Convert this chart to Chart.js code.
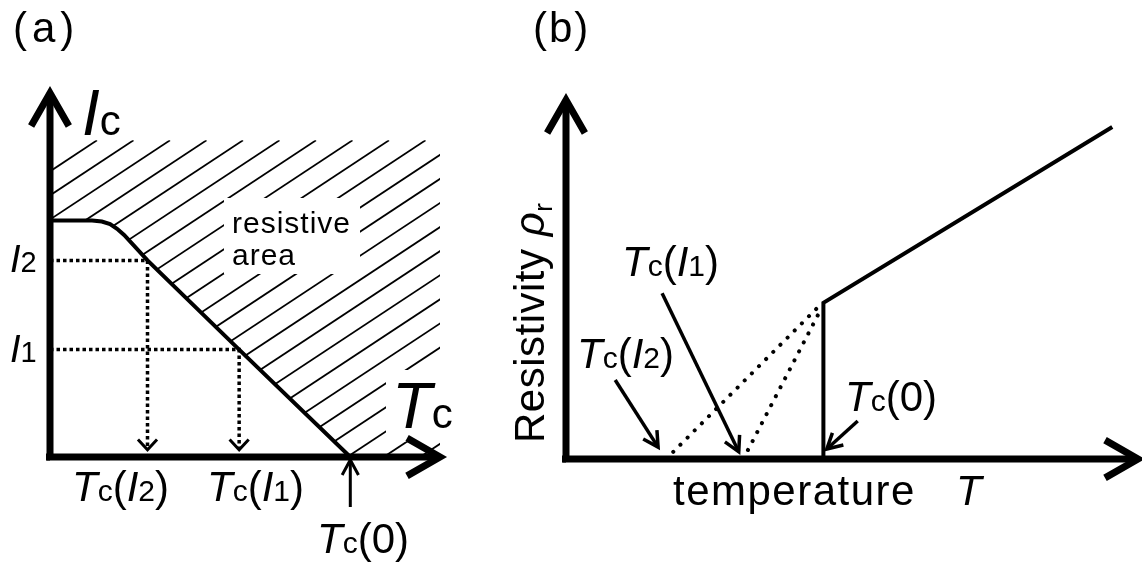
<!DOCTYPE html>
<html>
<head>
<meta charset="utf-8">
<script src="https://cdn.jsdelivr.net/npm/chart.js@4/dist/chart.umd.min.js"></script>
<style>
	body { margin: 0; background: #fff; }
	#wrap { position: relative; width: 1142px; height: 567px; overflow: hidden; }
	canvas { position: absolute; top: 0; }
	#chartA { left: 0; }
	#chartB { left: 490px; }
</style>
</head>
<body>
<div id="wrap">
	<canvas id="chartA" width="490" height="567"></canvas>
	<canvas id="chartB" width="652" height="567"></canvas>
</div>
<script>
// =================== DATA ===================
// (a) critical current boundary Ic(T), arbitrary units 0..10
const icTemp = [0, 1.08, 1.33, 1.54, 1.72, 1.9, 2.5, 4.85, 7.7];
const icCurrent = [6.5, 6.5, 6.47, 6.4, 6.27, 6.1, 5.4, 2.95, 0];
const levelNames = ["2", "1"];
const levelCurrent = [5.4, 2.95];
const levelTemp = [2.5, 4.85];
const tcZero = 7.7;
const hatchTop = 8.7;
const hatchRight = 10;

// (b) resistivity vs temperature
const resTemp = [0, 4.5, 4.5, 9.55];
const resRho = [0, 0, 4.35, 9.25];
const onsetTemp = [1.75, 3.1];
const onsetTopTemp = [4.45, 4.45];
const onsetTopRho = [4.3, 4.15];
// pointer arrows in (b): [fromT, fromRho, toT, toRho]
const pointerI2 = [0.86, 2.2, 1.61, 0.33];
const pointerI1 = [1.68, 4.62, 3.02, 0.2];
const pointerZero = [5.1, 1.06, 4.56, 0.28];

const FONT = '"Liberation Sans", Arial, sans-serif';

// =================== UTILITY ===================
function pts(xs, ys) {
	return xs.map((x, i) => ({ x, y: ys[i] }));
}

function rich(ctx, x, y, parts) {
	let cx = x;
	parts.forEach(([t, size, italic, dy]) => {
		ctx.font = `${italic ? "italic " : ""}${size}px ${FONT}`;
		ctx.fillText(t, cx, y + (dy || 0));
		cx += ctx.measureText(t).width;
	});
}

function tcLabel(ctx, x, y, arg) {
	const inner = arg === "0" ? [["0", 42]] : [["I", 42, true], [arg, 30]];
	rich(ctx, x, y, [["T", 42, true], ["c", 30], ["(", 42], ...inner, [")", 42]]);
}

function head(ctx, x1, y1, x2, y2, len, half) {
	const a = Math.atan2(y2 - y1, x2 - x1);
	ctx.beginPath();
	ctx.moveTo(x2 - len * Math.cos(a - half), y2 - len * Math.sin(a - half));
	ctx.lineTo(x2, y2);
	ctx.lineTo(x2 - len * Math.cos(a + half), y2 - len * Math.sin(a + half));
	ctx.stroke();
}

function arrow(ctx, x1, y1, x2, y2, len, half, width) {
	ctx.lineWidth = width;
	ctx.beginPath();
	ctx.moveTo(x1, y1);
	ctx.lineTo(x2, y2);
	ctx.stroke();
	head(ctx, x1, y1, x2, y2, len, half);
}

function drawAxes(chart, ext) {
	const { ctx, chartArea: ca } = chart;
	ctx.save();
	ctx.strokeStyle = "#000";
	ctx.lineWidth = 7;
	ctx.lineJoin = "miter";
	ctx.lineCap = "butt";
	ctx.beginPath();
	ctx.moveTo(ca.left, ca.top + 4);
	ctx.lineTo(ca.left, ca.bottom);
	ctx.lineTo(ca.right - 4, ca.bottom);
	ctx.stroke();
	ctx.beginPath();
	ctx.moveTo(ca.left - ext, ca.bottom);
	ctx.lineTo(ca.left, ca.bottom);
	ctx.stroke();
	head(ctx, ca.left, ca.bottom, ca.left, ca.top, 38, 0.52);
	head(ctx, ca.left, ca.bottom, ca.right, ca.bottom, 38, 0.52);
	ctx.restore();
}

// =================== PLUGINS ===================
const hatchPlugin = {
	id: "hatch",
	beforeDatasetsDraw(chart) {
		const { ctx, scales } = chart;
		const { x: xs, y: ys } = scales;
		ctx.save();
		ctx.beginPath();
		ctx.moveTo(xs.getPixelForValue(0), ys.getPixelForValue(hatchTop));
		icTemp.forEach((t, i) => ctx.lineTo(xs.getPixelForValue(t), ys.getPixelForValue(icCurrent[i])));
		ctx.lineTo(xs.getPixelForValue(hatchRight), ys.getPixelForValue(0));
		ctx.lineTo(xs.getPixelForValue(hatchRight), ys.getPixelForValue(hatchTop));
		ctx.closePath();
		ctx.clip();
		const top = ys.getPixelForValue(hatchTop);
		const slope = 0.66;
		ctx.strokeStyle = "#000";
		ctx.lineWidth = 1.8;
		for (let xt = xs.getPixelForValue(0) + 47; xt < 1100; xt += 36.5) {
			ctx.beginPath();
			ctx.moveTo(xt, top);
			ctx.lineTo(xt - 700, top + 700 * slope);
			ctx.stroke();
		}
		ctx.restore();
		// gaps around the labels inside the hatched area
		ctx.save();
		ctx.fillStyle = "#fff";
		ctx.fillRect(224, 198, 136, 76);
		ctx.fillRect(386, 370, 70, 72);
		ctx.restore();
	},
};

const annotA = {
	id: "annotA",
	afterDraw(chart) {
		const { ctx, scales } = chart;
		const { x: xs, y: ys } = scales;
		drawAxes(chart, 4);
		ctx.save();
		ctx.strokeStyle = "#000";
		ctx.fillStyle = "#000";
		ctx.lineCap = "butt";
		// chevrons at the foot of dotted drops
		levelTemp.forEach((t) => {
			const x = xs.getPixelForValue(t);
			const y = ys.getPixelForValue(0.2);
			ctx.lineWidth = 3;
			head(ctx, x, y - 20, x, y, 14, 0.75);
		});
		// Tc(0) arrow
		const x0 = xs.getPixelForValue(tcZero);
		const yb = ys.getPixelForValue(0);
		arrow(ctx, x0, yb + 50, x0, yb + 3, 17, 0.5, 3);

		ctx.textBaseline = "alphabetic";
		ctx.letterSpacing = "5px";
		rich(ctx, 13, 42, [["(a)", 42]]);
		ctx.letterSpacing = "0px";
		rich(ctx, 82, 135, [["I", 64, true], ["c", 42]]);
		rich(ctx, 392, 428, [["T", 65, true], ["c", 42]]);
		levelNames.forEach((n, i) => {
			const y = ys.getPixelForValue(levelCurrent[i]) + 12;
			rich(ctx, 10, y, [["I", 38, true], [n, 29]]);
		});
		ctx.letterSpacing = "1px";
		rich(ctx, 232, 233, [["resistive", 30]]);
		rich(ctx, 232, 265, [["area", 30]]);
		ctx.letterSpacing = "0px";
		tcLabel(ctx, 72, 501, "2");
		tcLabel(ctx, 207, 501, "1");
		tcLabel(ctx, 317, 553, "0");
		ctx.restore();
	},
};

const annotB = {
	id: "annotB",
	afterDraw(chart) {
		const { ctx, scales } = chart;
		const { x: xs, y: ys } = scales;
		drawAxes(chart, 4);
		ctx.save();
		ctx.strokeStyle = "#000";
		ctx.fillStyle = "#000";
		ctx.lineCap = "butt";
		[pointerI2, pointerI1, pointerZero].forEach(([a, b, c, d]) => {
			arrow(
				ctx,
				xs.getPixelForValue(a),
				ys.getPixelForValue(b),
				xs.getPixelForValue(c),
				ys.getPixelForValue(d),
				17,
				0.5,
				3.5,
			);
		});
		ctx.textBaseline = "alphabetic";
		ctx.letterSpacing = "2px";
		rich(ctx, 43, 42, [["(b)", 42]]);
		ctx.letterSpacing = "0px";
		tcLabel(ctx, 132, 276, "1");
		tcLabel(ctx, 87, 368, "2");
		tcLabel(ctx, 355, 411, "0");
		ctx.letterSpacing = "1.5px";
		rich(ctx, 183, 505, [["temperature", 42]]);
		ctx.letterSpacing = "0px";
		rich(ctx, 466, 505, [["T", 42, true]]);
		ctx.save();
		ctx.translate(54, 443);
		ctx.rotate(-Math.PI / 2);
		ctx.letterSpacing = "0.5px";
		rich(ctx, 0, 0, [["Resistivity ", 42], ["\u03C1", 42, true], ["r", 26, false, 8]]);
		ctx.restore();
		ctx.restore();
	},
};

// =================== CHARTS ===================
function baseOptions(padding) {
	return {
		responsive: false,
		devicePixelRatio: 1,
		animation: false,
		layout: { padding },
		scales: {
			x: { type: "linear", min: 0, max: 10, display: false },
			y: { type: "linear", min: 0, max: 10, display: false },
		},
		plugins: { legend: { display: false }, tooltip: { enabled: false } },
		elements: { point: { radius: 0 } },
	};
}

const dottedA = levelTemp.map((t, i) => ({
	data: [
		{ x: 0, y: levelCurrent[i] },
		{ x: t, y: levelCurrent[i] },
		{ x: t, y: 0.25 },
	],
	showLine: true,
	borderColor: "#000",
	borderWidth: 3.5,
	borderDash: [3.5, 3],
	pointRadius: 0,
}));

new Chart(document.getElementById("chartA"), {
	type: "scatter",
	data: {
		datasets: [
			{
				data: pts(icTemp, icCurrent),
				showLine: true,
				borderColor: "#000",
				borderWidth: 4,
				pointRadius: 0,
			},
			...dottedA,
		],
	},
	options: baseOptions({ left: 50, right: 50, top: 93, bottom: 110 }),
	plugins: [hatchPlugin, annotA],
});

const dottedB = onsetTemp.map((t, i) => ({
	data: [
		{ x: t, y: 0 },
		{ x: onsetTopTemp[i], y: onsetTopRho[i] },
	],
	showLine: true,
	borderColor: "#000",
	borderWidth: 4,
	borderDash: [0.1, 10],
	borderCapStyle: "round",
	pointRadius: 0,
}));

new Chart(document.getElementById("chartB"), {
	type: "scatter",
	data: {
		datasets: [
			{
				data: pts(resTemp, resRho),
				showLine: true,
				borderColor: "#000",
				borderWidth: 4,
				pointRadius: 0,
			},
			...dottedB,
		],
	},
	options: baseOptions({ left: 76, right: 4, top: 100, bottom: 108 }),
	plugins: [annotB],
});
</script>
</body>
</html>
